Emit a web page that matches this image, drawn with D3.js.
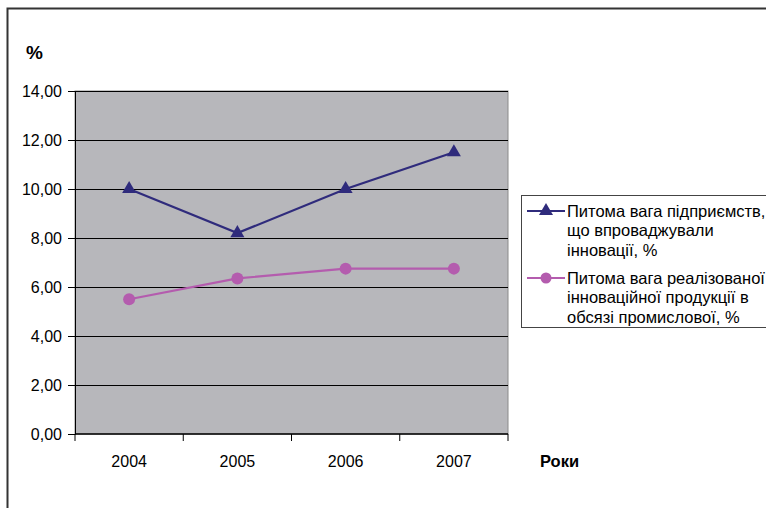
<!DOCTYPE html>
<html>
<head>
<meta charset="utf-8">
<script src="https://cdn.jsdelivr.net/npm/d3@7"></script>
<style>
  body { margin: 0; background: #fff; }
  svg { display: block; font-family: "Liberation Sans", Arial, sans-serif; }
</style>
</head>
<body>
<div id="chart"></div>
<script>
const years = ["2004", "2005", "2006", "2007"];
const share_enterprises = [10.0, 8.2, 10.0, 11.5];
const share_products = [5.5, 6.35, 6.75, 6.75];
const yTicks = [0, 2, 4, 6, 8, 10, 12, 14];
const legendLabels = [
  ["Питома вага підприємств,", "що впроваджували", "інновації, %"],
  ["Питома вага реалізованої", "інноваційної продукції в", "обсязі промислової, %"]
];

const W = 766, H = 508;
const plot = { left: 75, right: 508, top: 91, bottom: 434 };

const svg = d3.select("#chart").append("svg")
  .attr("width", W).attr("height", H);

// outer frame
svg.append("path")
  .attr("d", `M7.5,${H + 5} V8.5 H${W + 5}`)
  .attr("fill", "none").attr("stroke", "#333").attr("stroke-width", 2);

const x = d3.scaleBand().domain(years).range([plot.left, plot.right]);
const y = d3.scaleLinear().domain([0, 14]).range([plot.bottom, plot.top]);

// plot background
svg.append("rect")
  .attr("x", plot.left).attr("y", plot.top)
  .attr("width", plot.right - plot.left).attr("height", plot.bottom - plot.top)
  .attr("fill", "#b7b7bb").attr("stroke", "#8a8a8a").attr("stroke-width", 1);

// gridlines
svg.append("g").selectAll("line").data(yTicks.filter(d => d > 0)).join("line")
  .attr("x1", plot.left).attr("x2", plot.right)
  .attr("y1", d => Math.round(y(d)) + 0.5).attr("y2", d => Math.round(y(d)) + 0.5)
  .attr("stroke", "#000").attr("stroke-width", 1);

// y axis
const yAxis = svg.append("g")
  .attr("transform", `translate(${plot.left},0)`)
  .call(d3.axisLeft(y).tickValues(yTicks).tickSize(7).tickPadding(6)
    .tickFormat(d => d3.format(".2f")(d).replace(".", ",")));
yAxis.select(".domain").attr("stroke", "#000");
yAxis.selectAll("text").attr("font-size", 16).attr("fill", "#000")
  .attr("font-family", "Liberation Sans, Arial, sans-serif");

// x axis
const xTickPos = years.map(d => x(d)).concat([plot.right]);
const xAxis = svg.append("g").attr("transform", `translate(0,${plot.bottom})`);
xAxis.append("line").attr("x1", plot.left).attr("x2", plot.right)
  .attr("stroke", "#000").attr("stroke-width", 1.5);
xAxis.selectAll(".tk").data(xTickPos).join("line").attr("class", "tk")
  .attr("x1", d => d).attr("x2", d => d).attr("y1", 0).attr("y2", 7)
  .attr("stroke", "#000");
xAxis.selectAll("text").data(years).join("text")
  .attr("x", d => x(d) + x.bandwidth() / 2).attr("y", 33)
  .attr("text-anchor", "middle").attr("font-size", 16).text(d => d);

// axis titles
svg.append("text").attr("x", 26).attr("y", 59)
  .attr("font-size", 19).attr("font-weight", "bold").text("%");
svg.append("text").attr("x", 540).attr("y", 467)
  .attr("font-size", 16.5).attr("font-weight", "bold").text("Роки");

const cx = d => x(d) + x.bandwidth() / 2;
const line = d3.line().x((d, i) => cx(years[i])).y(d => y(d));

const navy = "#2f2b7c", pink = "#b45cae";
const tri = d3.symbol().type(d3.symbolTriangle).size(85);

svg.append("path").datum(share_enterprises)
  .attr("d", line).attr("fill", "none").attr("stroke", navy).attr("stroke-width", 2.2);
svg.selectAll(".m1").data(share_enterprises).join("path").attr("class", "m1")
  .attr("transform", (d, i) => `translate(${cx(years[i])},${y(d)})`)
  .attr("d", tri).attr("fill", navy);

svg.append("path").datum(share_products)
  .attr("d", line).attr("fill", "none").attr("stroke", pink).attr("stroke-width", 2.2);
svg.selectAll(".m2").data(share_products).join("circle").attr("class", "m2")
  .attr("cx", (d, i) => cx(years[i])).attr("cy", d => y(d)).attr("r", 6)
  .attr("fill", pink);

// legend
const lg = svg.append("g");
lg.append("rect").attr("x", 521.5).attr("y", 195.5).attr("width", 260).attr("height", 132)
  .attr("fill", "#fff").attr("stroke", "#444").attr("stroke-width", 1);
const items = [
  { color: navy, marker: "tri", y0: 211 },
  { color: pink, marker: "circle", y0: 278 }
];
items.forEach((it, k) => {
  lg.append("line").attr("x1", 527).attr("x2", 565).attr("y1", it.y0).attr("y2", it.y0)
    .attr("stroke", it.color).attr("stroke-width", 2.2);
  if (it.marker === "tri") {
    lg.append("path").attr("transform", `translate(546,${it.y0})`).attr("d", tri).attr("fill", it.color);
  } else {
    lg.append("circle").attr("cx", 546).attr("cy", it.y0).attr("r", 5.5).attr("fill", it.color);
  }
  legendLabels[k].forEach((t, j) => {
    lg.append("text").attr("x", 567).attr("y", it.y0 + 6 + j * 19.3)
      .attr("font-size", 16.5).text(t);
  });
});
</script>
</body>
</html>
